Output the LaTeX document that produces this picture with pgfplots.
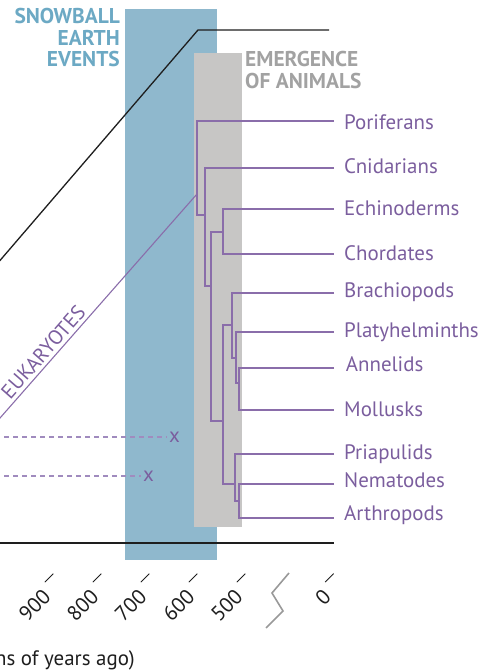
\documentclass[border=0pt]{standalone}
\usepackage{fontspec}
\setmainfont{PT Sans}
\usepackage{pgfplots}
\pgfplotsset{compat=1.18}
\definecolor{purptext}{HTML}{7B5E9E}
\definecolor{purpline}{HTML}{8A6DAA}
\definecolor{purpdash}{HTML}{A08BBE}
\definecolor{snowband}{HTML}{8FB8CD}
\definecolor{animband}{HTML}{C7C6C5}
\definecolor{snowtext}{HTML}{6CA9C4}
\definecolor{animtext}{HTML}{A2A2A2}
\definecolor{blk}{HTML}{1E1E1E}
\newcommand{\tk}[1]{#1\hspace{6.5bp}\raisebox{16bp}{\rule{12bp}{0.9bp}}}
\tikzset{
  lab/.style={anchor=base west, inner sep=0pt, text=purptext, font=\fontsize{21}{23}\selectfont},
  tree/.style={purpline, line width=1.1bp},
  hdr/.style={inner sep=0pt, font=\fontsize{21.5}{23}\selectfont\bfseries},
}
\begin{document}
\begin{tikzpicture}
\begin{axis}[
  at={(0,0)}, anchor=south west,
  scale only axis, width=489bp, height=573bp,
  xmin=-1004.17, xmax=14.58, ymin=98, ymax=671,
  clip=false,
  axis line style={draw=none},
  major tick length=0pt,
  ytick=\empty,
  xtick={-900,-800,-700,-600,-500,-316},
  xticklabels={\tk{900},\tk{800},\tk{700},\tk{600},\tk{500},\tk{0}},
  xticklabel style={font=\fontsize{21}{23}\selectfont, text=blk, anchor=north east, inner sep=0pt, xshift=3bp, rotate=45},
  /pgf/number format/assume math mode=true,
  xlabel={Time (millions of years ago)},
  xlabel style={at={(axis description cs:0.2761,-0.1623)}, anchor=base east, font=\fontsize{21}{23}\selectfont, text=blk, inner sep=0pt},
]
% bands
\addplot[fill=snowband, draw=none] coordinates {(-743.75,111) (-552.08,111) (-552.08,662) (-743.75,662)};
\addplot[fill=animband, draw=none] coordinates {(-600,144) (-500,144) (-500,618) (-600,618)};
% black frame lines
\addplot[blk, line width=1.3bp] coordinates {(-1014.58,404.7) (-591.67,641) (-318.75,641)};
\addplot[blk, line width=1.3bp] coordinates {(-1014.58,128) (-308.33,128)};
% eukaryote stem
\addplot[purpline, line width=1.1bp] coordinates {(-1014.58,247.3) (-593.75,477)};
% extinct lineages
\addplot[purpdash, line width=1.1bp, dash pattern=on 5bp off 4bp] coordinates {(-1014.58,234) (-656.25,234)}
  node[pos=1, anchor=west, inner sep=1.5bp, text=purptext, font=\fontsize{21}{23}\selectfont] {x};
\addplot[purpdash, line width=1.1bp, dash pattern=on 5bp off 4bp] coordinates {(-1014.58,195) (-710.42,195)}
  node[pos=1, anchor=west, inner sep=1.5bp, text=purptext, font=\fontsize{21}{23}\selectfont] {x};
% tree
\addplot[tree] coordinates {(-308.33,550) (-593.75,550) (-593.75,456) (-577.08,456)};
\addplot[tree] coordinates {(-308.33,503) (-577.08,503) (-577.08,385) (-564.58,385)};
\addplot[tree] coordinates {(-539.58,439) (-564.58,439) (-564.58,250) (-539.58,250)};
\addplot[tree] coordinates {(-308.33,462) (-539.58,462) (-539.58,417) (-308.33,417)};
\addplot[tree] coordinates {(-520.83,346) (-539.58,346) (-539.58,187) (-514.58,187)};
\addplot[tree] coordinates {(-308.33,378) (-520.83,378) (-520.83,313) (-512.5,313)};
\addplot[tree] coordinates {(-308.33,339) (-512.5,339) (-512.5,288) (-506.25,288)};
\addplot[tree] coordinates {(-308.33,303) (-506.25,303) (-506.25,261) (-308.33,261)};
\addplot[tree] coordinates {(-308.33,217) (-514.58,217) (-514.58,170) (-506.25,170)};
\addplot[tree] coordinates {(-308.33,187) (-506.25,187) (-506.25,153) (-308.33,153)};
% axis break
\addplot[gray!80, line width=1.6bp] coordinates {(-402.1,98) (-437.5,78) (-414.6,60) (-450,43)};
% labels
\node[lab] at (axis cs:-287.5,541) {Poriferans};
\node[lab] at (axis cs:-287.5,497) {Cnidarians};
\node[lab] at (axis cs:-287.5,455.3) {Echinoderms};
\node[lab] at (axis cs:-287.5,410) {Chordates};
\node[lab] at (axis cs:-287.5,373) {Brachiopods};
\node[lab] at (axis cs:-287.5,333) {Platyhelminths};
\node[lab] at (axis cs:-284,299) {Annelids};
\node[lab] at (axis cs:-287.5,254) {Mollusks};
\node[lab] at (axis cs:-287.5,211) {Priapulids};
\node[lab] at (axis cs:-287.5,183) {Nematodes};
\node[lab] at (axis cs:-287.5,151) {Arthropods};
\node[anchor=south, inner sep=3.5bp, rotate=48.67, text=purptext, font=\fontsize{20.5}{22}\selectfont] at (axis cs:-896.7,311.7) {EUKARYOTES};
\node[hdr, anchor=base east, text=snowtext] at (axis cs:-754.2,647) {SNOWBALL};
\node[hdr, anchor=base east, text=snowtext] at (axis cs:-754.2,625) {EARTH};
\node[hdr, anchor=base east, text=snowtext] at (axis cs:-754.2,604) {EVENTS};
\node[hdr, anchor=base west, text=animtext] at (axis cs:-493.75,604) {EMERGENCE};
\node[hdr, anchor=base west, text=animtext] at (axis cs:-493.75,582) {OF ANIMALS};
\end{axis}
\pgfresetboundingbox
\path[use as bounding box] (0,-98bp) rectangle (489bp,573bp);
\end{tikzpicture}
\end{document}
